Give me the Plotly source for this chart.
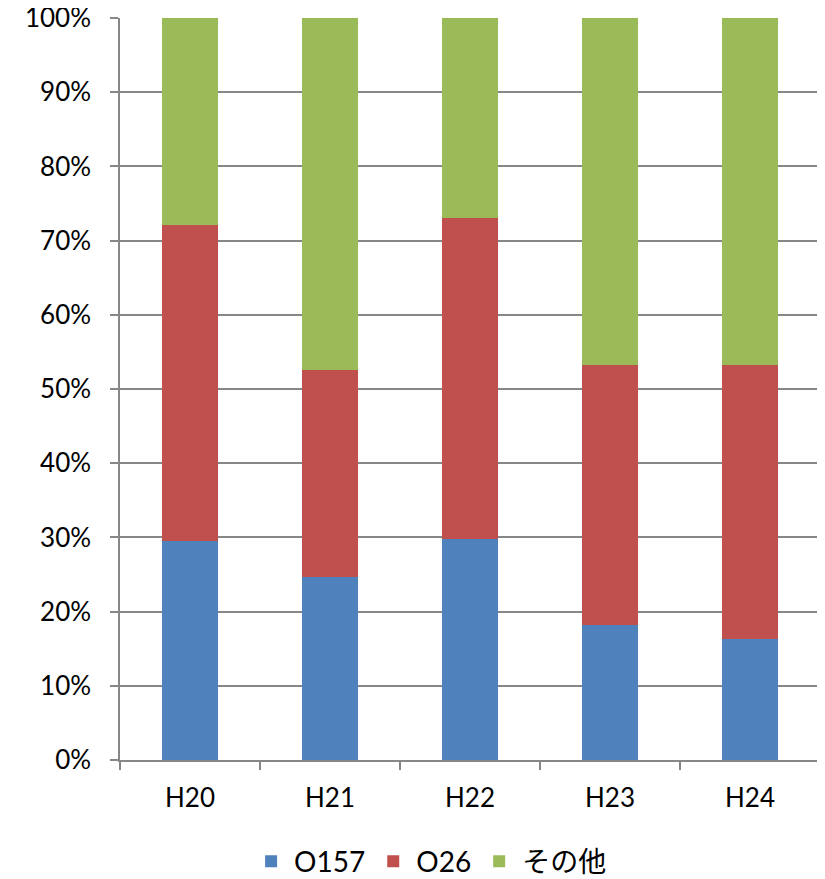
import plotly.graph_objects as go

categories = ["H20", "H21", "H22", "H23", "H24"]
o157 = [29.5, 24.6, 29.8, 18.2, 16.3]
o26 = [42.6, 28.0, 43.2, 35.0, 36.9]
other = [27.9, 47.4, 27.0, 46.8, 46.8]

series_names = ["O157", "O26", "その他"]
colors = ["#4F81BD", "#C0504D", "#9BBB59"]

FONT = "Lato, 'Noto Sans CJK JP', sans-serif"

fig = go.Figure()
for name, vals, col in zip(series_names, [o157, o26, other], colors):
    fig.add_trace(go.Bar(x=categories, y=vals, name=name, marker_color=col,
                         marker_line_width=0))

fig.update_layout(
    barmode="stack",
    bargap=0.603,
    width=825, height=879,
    margin=dict(l=112, r=13, t=10, b=127, autoexpand=False),
    paper_bgcolor="white", plot_bgcolor="white",
    font=dict(family=FONT, color="black"),
    legend=dict(orientation="h", x=0.443, xanchor="center", y=-0.137, yanchor="middle",
                font=dict(size=28, family=FONT), traceorder="normal", itemwidth=36),
    showlegend=True,
)
fig.update_yaxes(range=[0, 100], dtick=10, ticksuffix="%", automargin=False,
                 showgrid=True, gridcolor="#878787", gridwidth=1.5,
                 showline=True, linecolor="#878787", linewidth=1.5,
                 ticks="outside", ticklen=8, tickcolor="#878787", tickwidth=1.5,
                 ticklabelstandoff=14, ticklabeloverflow="allow",
                 tickfont=dict(size=26, family=FONT), zeroline=False)
fig.update_xaxes(showline=True, linecolor="#878787", linewidth=1.5, automargin=False,
                 ticks="outside", ticklen=8, tickcolor="#878787", tickwidth=1.5,
                 ticklabelstandoff=14,
                 tickson="boundaries", tickfont=dict(size=26, family=FONT))

fig.write_html("out.html")
